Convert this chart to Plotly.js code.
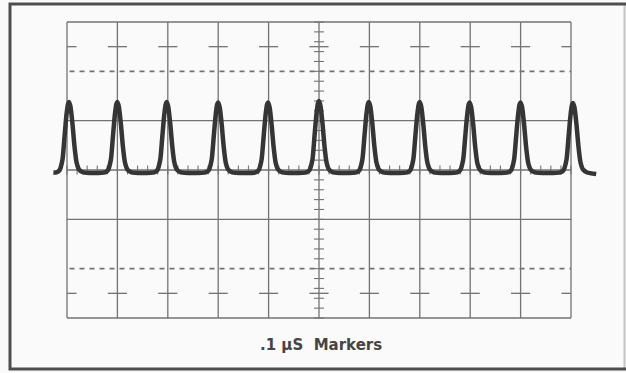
<!DOCTYPE html>
<html>
<head>
<meta charset="utf-8">
<script src="https://cdn.plot.ly/plotly-3.0.1.min.js"></script>
<style>
  html, body { margin: 0; padding: 0; background: #fafafa; overflow: hidden; }
  #chart { width: 626px; height: 373px; }
</style>
</head>
<body>
<div id="chart"></div>
<script>
// ---- Data (units: graticule divisions) ----
// Time of each .1 µS marker pulse (horizontal divisions)
const markerTimes = [0.04, 1.0, 1.98, 3.0, 3.99, 5.0, 5.99, 7.0, 7.99, 9.0, 10.04];
// Peak height of each pulse above the screen centre line (divisions)
const peakHeights = [1.38, 1.38, 1.38, 1.37, 1.37, 1.40, 1.38, 1.38, 1.37, 1.37, 1.36];
// Shape of one pulse: offsets from peak time and relative level
const pulseOffsets = [-0.25, -0.19, -0.13, -0.09, -0.05, -0.02, 0, 0.03, 0.07, 0.11, 0.15, 0.20, 0.28];
const pulseLevels  = [0, 0.03, 0.18, 0.5, 0.82, 0.97, 1, 0.93, 0.68, 0.36, 0.14, 0.04, 0];
// Baseline of the trace and where the sweep starts / ends
const baselineLevel = -0.05;
const traceStart = -0.27;
const traceEnd = 10.5;
// Caption
const captionText = '.1 \u03bcS\u00a0\u00a0Markers';

// ---- Build the trace from the readings ----
const tx = [traceStart];
const ty = [baselineLevel];
markerTimes.forEach((t, i) => {
  pulseOffsets.forEach((dx, j) => {
    tx.push(t + dx);
    ty.push(baselineLevel + pulseLevels[j] * (peakHeights[i] - baselineLevel));
  });
});
tx.push(traceEnd);
ty.push(baselineLevel - 0.03);

// ---- Graticule (layout only) ----
const gCol = '#737373';
const shapes = [];
function seg(x0, y0, x1, y1, w, dash) {
  shapes.push({type: 'line', xref: 'x', yref: 'y', x0, y0, x1, y1,
    line: {color: gCol, width: w || 1.2, dash: dash || 'solid'}, layer: 'below'});
}
for (let i = 0; i <= 10; i++) seg(i, -3, i, 3, 1.3);
[-3, -1, 0, 1, 3].forEach(y => seg(0, y, 10, y, 1.3));
[-2, 2].forEach(y => seg(0.05, y, 10, y, 1.6, '5px,5px'));
[-2.5, 2.5].forEach(y => {
  for (let i = 0; i <= 10; i++) seg(Math.max(0, i - 0.19), y, Math.min(10, i + 0.19), y, 1.3);
});
for (let k = -15; k <= 15; k++) seg(4.9, k * 0.2, 5.1, k * 0.2, 1.1);
for (let k = 0; k <= 50; k++) seg(k * 0.2, -0.09, k * 0.2, 0.09, 1.1);

// Outer photo frame: open on the right, runs off the picture
const W = 626, H = 373;
const fx = v => (v / W).toFixed(5);
const fy = v => (1 - v / H).toFixed(5);
shapes.push({
  type: 'path', xref: 'paper', yref: 'paper',
  path: 'M' + fx(624.5) + ',' + fy(5) + ' L' + fx(624.5) + ',' + fy(368),
  line: {color: '#c4c4c4', width: 2}, fillcolor: 'rgba(0,0,0,0)'
});
shapes.push({
  type: 'path', xref: 'paper', yref: 'paper',
  path: 'M' + fx(700) + ',' + fy(4) + ' L' + fx(10) + ',' + fy(4) +
        ' L' + fx(10) + ',' + fy(369) + ' L' + fx(700) + ',' + fy(369),
  line: {color: '#4e4e4e', width: 3}, fillcolor: 'rgba(0,0,0,0)'
});

const pxPerDivX = 50.4, pxPerDivY = 49.33;
const x0px = 67, y0px = 170;
const layout = {
  width: W, height: H,
  margin: {l: 0, r: 0, t: 0, b: 0, pad: 0},
  paper_bgcolor: '#fafafa', plot_bgcolor: '#fafafa',
  showlegend: false,
  xaxis: {visible: false, range: [-x0px / pxPerDivX, (W - x0px) / pxPerDivX], fixedrange: true},
  yaxis: {visible: false, range: [-(H - y0px) / pxPerDivY, y0px / pxPerDivY], fixedrange: true},
  shapes: shapes,
  annotations: [{
    xref: 'paper', yref: 'paper', x: 321 / W, y: 1 - 345 / H,
    xanchor: 'center', yanchor: 'middle', showarrow: false,
    text: captionText,
    font: {family: 'DejaVu Sans', size: 15, color: '#454545', weight: 'bold'}
  }]
};

Plotly.newPlot('chart', [{
  type: 'scatter', mode: 'lines', x: tx, y: ty,
  line: {color: '#353535', width: 4.5, shape: 'spline', smoothing: 0.6},
  hoverinfo: 'skip'
}], layout, {staticPlot: true, displayModeBar: false});
</script>
</body>
</html>
